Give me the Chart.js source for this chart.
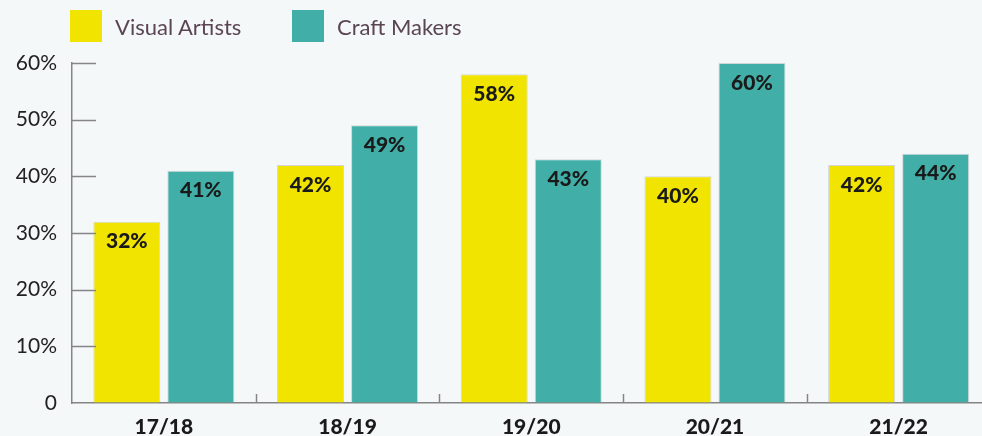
<!DOCTYPE html>
<html>
<head>
<meta charset="utf-8">
<title>Visual Artists vs Craft Makers</title>
<script src="https://cdn.jsdelivr.net/npm/chart.js@4.4.1/dist/chart.umd.min.js"></script>
<style>
    html, body {
        margin: 0;
        padding: 0;
        background: #f5f8f9;
        overflow: hidden;
        font-family: Lato, "Noto Sans", sans-serif;
    }
    #wrap {
        position: relative;
        width: 1000px;
        height: 436px;
    }
    .legend {
        position: absolute;
        top: 10px;
        display: flex;
        align-items: center;
        font-size: 22px;
        color: #5a4652;
    }
    .legend span.box {
        display: inline-block;
        width: 32px;
        height: 32px;
        margin-right: 13px;
    }
</style>
</head>
<body>
<div id="wrap">
    <div class="legend" style="left:70px"><span class="box" style="background:#f0e400"></span>Visual Artists</div>
    <div class="legend" style="left:292px"><span class="box" style="background:#41afa8"></span>Craft Makers</div>
    <canvas id="surveyChart"></canvas>
</div>

<script>
// ----------------------------
// Data
// ----------------------------
const years = ['17/18', '18/19', '19/20', '20/21', '21/22'];
const visualArtists = [32, 42, 58, 40, 42];
const craftMakers = [41, 49, 43, 60, 44];
const yTicks = [0, 10, 20, 30, 40, 50, 60];

const YELLOW = '#f0e400';
const TEAL = '#41afa8';
const AXIS = '#858585';

// ----------------------------
// Small plugins: tick marks + value labels
// ----------------------------
const tickMarks = {
    id: 'tickMarks',
    afterDraw(chart) {
        const { ctx, chartArea, scales } = chart;
        ctx.save();
        ctx.strokeStyle = AXIS;
        ctx.lineWidth = 1.5;
        // y ticks point into the plot
        yTicks.forEach(v => {
            if (v === 0) return;
            const y = Math.round(scales.y.getPixelForValue(v)) + 0.5;
            ctx.beginPath();
            ctx.moveTo(chartArea.left, y);
            ctx.lineTo(chartArea.left + 24, y);
            ctx.stroke();
        });
        // little marks between the year groups
        for (let i = 0; i < years.length - 1; i++) {
            const x = Math.round((scales.x.getPixelForValue(i) + scales.x.getPixelForValue(i + 1)) / 2) + 0.5;
            ctx.beginPath();
            ctx.moveTo(x, chartArea.bottom);
            ctx.lineTo(x, chartArea.bottom - 9);
            ctx.stroke();
        }
        ctx.restore();
    }
};

const valueLabels = {
    id: 'valueLabels',
    afterDatasetsDraw(chart) {
        const { ctx } = chart;
        ctx.save();
        ctx.font = '900 21px Lato, "Noto Sans", sans-serif';
        ctx.fillStyle = '#1a1a1a';
        ctx.textAlign = 'center';
        ctx.textBaseline = 'middle';
        chart.data.datasets.forEach((ds, di) => {
            chart.getDatasetMeta(di).data.forEach((bar, i) => {
                ctx.fillText(ds.data[i] + '%', bar.x, bar.y + 20);
            });
        });
        ctx.restore();
    }
};

// ----------------------------
// Chart
// ----------------------------
const ctx = document.getElementById('surveyChart').getContext('2d');

new Chart(ctx, {
    type: 'bar',
    data: {
        labels: years,
        datasets: [
            {
                label: 'Visual Artists',
                data: visualArtists,
                backgroundColor: YELLOW,
                borderColor: 'rgba(150,150,150,0.35)',
                borderWidth: 1
            },
            {
                label: 'Craft Makers',
                data: craftMakers,
                backgroundColor: TEAL,
                borderColor: 'rgba(150,150,150,0.35)',
                borderWidth: 1
            }
        ]
    },
    options: {
        responsive: true,
        maintainAspectRatio: false,
        animation: false,
        categoryPercentage: 0.806,
        barPercentage: 0.905,
        layout: {
            padding: { top: 63, right: 9.5, left: 0, bottom: 0 }
        },
        plugins: {
            legend: { display: false },
            tooltip: { enabled: false }
        },
        scales: {
            x: {
                grid: { display: true, drawOnChartArea: false, drawTicks: false, color: 'transparent' },
                border: { display: true, color: AXIS, width: 1.5 },
                ticks: {
                    padding: 12,
                    color: '#1a1a1a',
                    font: { family: 'Lato', size: 21, weight: '900' }
                },
                afterFit(scale) { scale.height = 33; }
            },
            y: {
                min: 0,
                max: 60,
                grid: { display: true, drawOnChartArea: false, drawTicks: false, color: 'transparent' },
                border: { display: true, color: AXIS, width: 1.5 },
                afterBuildTicks(scale) {
                    scale.ticks = yTicks.map(v => ({ value: v }));
                },
                ticks: {
                    padding: 15,
                    color: '#222',
                    font: { family: 'Lato', size: 21 },
                    callback: function (value) {
                        return value === 0 ? '0' : value + '%';
                    }
                },
                afterFit(scale) { scale.width = 72; }
            }
        }
    },
    plugins: [tickMarks, valueLabels]
});
</script>
</body>
</html>
